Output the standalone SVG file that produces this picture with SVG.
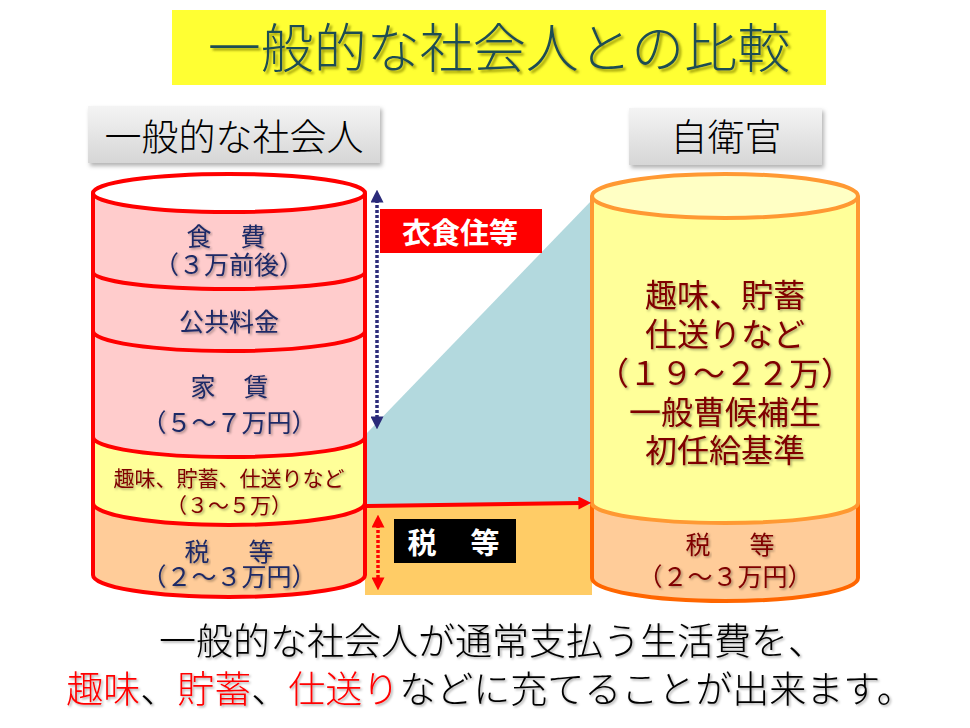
<svg xmlns="http://www.w3.org/2000/svg" width="970" height="728" viewBox="0 0 970 728">
<defs>
<style>
text{font-family:"Noto Sans CJK JP","Noto Sans CJK SC",sans-serif;text-anchor:middle}
.navy{fill:#1F2A66;font-size:25px}
.dred{fill:#7F0000}
.hdr{fill:#000;font-size:37px;font-weight:300}
.lbl{fill:#fff;font-size:29px;font-weight:bold}
.sepL{fill:none;stroke:#FF0000;stroke-width:4}
</style>
<linearGradient id="gHdr" x1="0" y1="0" x2="0" y2="1">
<stop offset="0" stop-color="#F4F4F4"/><stop offset="1" stop-color="#D6D6D6"/>
</linearGradient>
<filter id="shBox" x="-5%" y="-10%" width="115%" height="130%">
<feDropShadow dx="2" dy="3" stdDeviation="2" flood-color="#000" flood-opacity="0.3"/>
</filter>
<filter id="shTxt" x="-5%" y="-20%" width="110%" height="150%">
<feDropShadow dx="1.5" dy="1.5" stdDeviation="0.8" flood-color="#000" flood-opacity="0.35"/>
</filter>
<filter id="shTitle" x="-5%" y="-20%" width="110%" height="150%">
<feDropShadow dx="2.5" dy="2.5" stdDeviation="1" flood-color="#8A8A00" flood-opacity="0.8"/>
</filter>
<marker id="mNavy" viewBox="0 0 10 10" refX="2" refY="5" markerWidth="13" markerHeight="13" markerUnits="userSpaceOnUse" orient="auto-start-reverse">
<path d="M0,0 L10,5 L0,10 Z" fill="#2B2B7A"/>
</marker>
<marker id="mRed" viewBox="0 0 10 10" refX="2" refY="5" markerWidth="13" markerHeight="13" markerUnits="userSpaceOnUse" orient="auto-start-reverse">
<path d="M0,0 L10,5 L0,10 Z" fill="#FF0000"/>
</marker>
</defs>

<g id="title">
<rect x="172" y="10" width="654" height="75" fill="#FFFF33"/>
<text x="499" y="68" font-size="53" font-weight="300" fill="#1F4D52" filter="url(#shTitle)">一般的な社会人との比較</text>
</g>

<g id="header-left">
<rect x="88" y="106" width="292" height="57" fill="url(#gHdr)" filter="url(#shBox)"/>
<text class="hdr" x="234" y="151">一般的な社会人</text>
</g>
<g id="header-right">
<rect x="629" y="108" width="193" height="57" fill="url(#gHdr)" filter="url(#shBox)"/>
<text class="hdr" x="726" y="151">自衛官</text>
</g>

<g id="background-bands">
<polygon points="367,433 592,200 592,505 367,505" fill="#B3D9DE"/>
<rect x="365" y="505" width="227" height="90" fill="#FFCC66"/>
</g>

<g id="cylinder-left">
<path d="M93,503 A136,22 0 0 0 365,503 L365,575 A136,22 0 0 1 93,575 Z" fill="#FFCC99"/>
<path d="M93,437 A136,20 0 0 0 365,437 L365,503 A136,22 0 0 1 93,503 Z" fill="#FFFF99"/>
<path d="M93,331 A136,20 0 0 0 365,331 L365,437 A136,20 0 0 1 93,437 Z" fill="#FFCCCC"/>
<path d="M93,272 A136,17 0 0 0 365,272 L365,331 A136,20 0 0 1 93,331 Z" fill="#FFCCCC"/>
<path d="M93,193 A136,19 0 0 0 365,193 L365,272 A136,17 0 0 1 93,272 Z" fill="#FFCCCC"/>
<ellipse cx="229" cy="193" rx="136" ry="19" fill="#FFE0E0" class="sepL"/>
<path class="sepL" d="M93,272 A136,17 0 0 0 365,272"/>
<path class="sepL" d="M93,331 A136,20 0 0 0 365,331"/>
<path class="sepL" d="M93,437 A136,20 0 0 0 365,437"/>
<path class="sepL" d="M93,503 A136,22 0 0 0 365,503"/>
<path class="sepL" d="M93,193 L93,575 A136,22 0 0 0 365,575 L365,193"/>
</g>
<g id="left-food">
<text class="navy" x="199" y="246" filter="url(#shTxt)">食</text>
<text class="navy" x="253" y="246" filter="url(#shTxt)">費</text>
<text class="navy" x="229" y="274" filter="url(#shTxt)">（３万前後）</text>
</g>
<g id="left-utilities">
<text class="navy" x="229" y="331" filter="url(#shTxt)">公共料金</text>
</g>
<g id="left-rent">
<text class="navy" x="203" y="396" filter="url(#shTxt)">家</text>
<text class="navy" x="256" y="396" filter="url(#shTxt)">賃</text>
<text class="navy" x="229" y="432" filter="url(#shTxt)">（５～７万円）</text>
</g>
<g id="left-hobby">
<text class="dred" x="229" y="486" font-size="21" filter="url(#shTxt)">趣味、貯蓄、仕送りなど</text>
<text class="dred" x="229" y="513" font-size="21" filter="url(#shTxt)">（３～５万）</text>
</g>
<g id="left-tax">
<text class="navy" x="197" y="561" font-size="26" filter="url(#shTxt)">税</text>
<text class="navy" x="261" y="561" font-size="26" filter="url(#shTxt)">等</text>
<text class="navy" x="229" y="586" filter="url(#shTxt)">（２～３万円）</text>
</g>

<g id="cylinder-right">
<path d="M592,503 A133,20 0 0 0 858,503 L858,578 A133,23 0 0 1 592,578 Z" fill="#FFCC99"/>
<path d="M592,196 A133,22 0 0 0 858,196 L858,503 A133,20 0 0 1 592,503 Z" fill="#FFFF99"/>
<path d="M592,503 L592,578 A133,23 0 0 0 858,578 L858,503" fill="none" stroke="#FF6600" stroke-width="4"/>
<path d="M592,196 L592,503 A133,20 0 0 0 858,503 L858,196" fill="none" stroke="#FF9933" stroke-width="4"/>
<ellipse cx="725" cy="196" rx="133" ry="22" fill="#FFFFC4" stroke="#FF9933" stroke-width="4"/>
</g>
<g id="right-hobby">
<text class="dred" x="725" y="307" font-size="32" filter="url(#shTxt)">趣味、貯蓄</text>
<text class="dred" x="725" y="346" font-size="32" filter="url(#shTxt)">仕送りなど</text>
<text class="dred" x="725" y="385" font-size="32" filter="url(#shTxt)">（１９～２２万）</text>
<text class="dred" x="725" y="424" font-size="32" filter="url(#shTxt)">一般曹候補生</text>
<text class="dred" x="725" y="462" font-size="32" filter="url(#shTxt)">初任給基準</text>
</g>
<g id="right-tax">
<text class="dred" x="698" y="554" font-size="25" filter="url(#shTxt)">税</text>
<text class="dred" x="762" y="554" font-size="25" filter="url(#shTxt)">等</text>
<text class="dred" x="725" y="586" font-size="25" filter="url(#shTxt)">（２～３万円）</text>
</g>

<g id="connectors">
<line x1="377" y1="200" x2="377" y2="419" stroke="#2B2B7A" stroke-width="3.5" stroke-dasharray="3 2" marker-start="url(#mNavy)" marker-end="url(#mNavy)"/>
<line x1="367" y1="506" x2="581" y2="503" stroke="#FF0000" stroke-width="4" marker-end="url(#mRed)"/>
<line x1="378" y1="525" x2="378" y2="580" stroke="#FF0000" stroke-width="3.5" stroke-dasharray="3 2" marker-start="url(#mRed)" marker-end="url(#mRed)"/>
</g>

<g id="label-clothing">
<rect x="380" y="209" width="162" height="44" fill="#FF0000"/>
<text class="lbl" x="460" y="244">衣食住等</text>
</g>
<g id="label-tax">
<rect x="394" y="519" width="122" height="44" fill="#000"/>
<text class="lbl" x="422" y="554">税</text>
<text class="lbl" x="485" y="554">等</text>
</g>

<g id="caption">
<text x="492" y="655" font-size="37" font-weight="300" fill="#000" filter="url(#shTxt)">一般的な社会人が通常支払う生活費を、</text>
<text x="490" y="703" font-size="37" font-weight="300" fill="#000" filter="url(#shTxt)"><tspan fill="#FF0000">趣味</tspan>、<tspan fill="#FF0000">貯蓄</tspan>、<tspan fill="#FF0000">仕送り</tspan>などに充てることが出来ます。</text>
</g>
</svg>
